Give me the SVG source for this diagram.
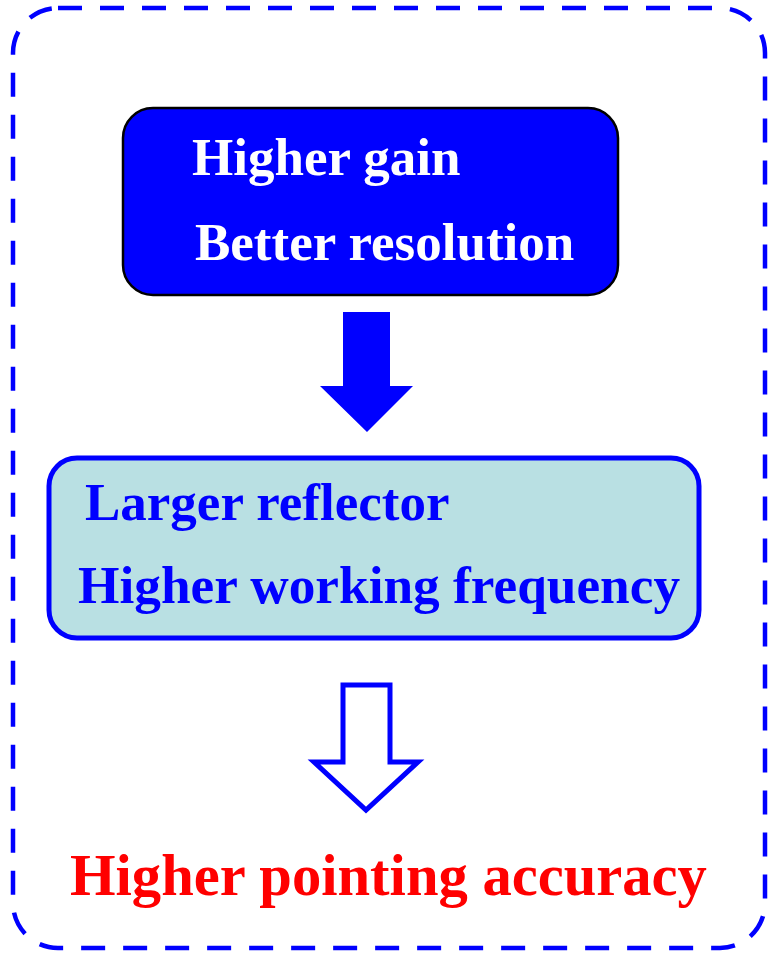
<svg xmlns="http://www.w3.org/2000/svg" width="769" height="957" viewBox="0 0 769 957">
<style>
.t{font-family:"Liberation Serif","Times New Roman",serif;font-weight:bold;font-size:53px}
</style>
<rect width="769" height="957" fill="#fff"/>
<g id="frame">
<rect x="13" y="8" width="752" height="940" rx="45" fill="none" stroke="#0000FF" stroke-width="4.5" stroke-dasharray="24 18"/>
</g>
<g id="node-top">
<rect x="123" y="108" width="495" height="187" rx="30" fill="#0000FF" stroke="#000" stroke-width="2.5"/>
<text class="t" x="192" y="175" fill="#fff">Higher gain</text>
<text class="t" x="195" y="260" fill="#fff">Better resolution</text>
</g>
<g id="node-mid">
<rect x="49" y="458" width="650" height="180" rx="28" fill="#B9E0E3" stroke="#0000FF" stroke-width="5"/>
<text class="t" x="85" y="520" fill="#0000FF">Larger reflector</text>
<text class="t" x="78" y="603" fill="#0000FF" style="font-size:53.3px">Higher working frequency</text>
</g>
<g id="node-bottom">
<text class="t" x="70" y="895" fill="#FF0000" style="font-size:58.6px">Higher pointing accuracy</text>
</g>
<g id="connectors">
<polygon points="343,312 390,312 390,386 413,386 367,432 320,386 343,386" fill="#0000FF"/>
<polygon points="343,685 390,685 390,762 418,762 366,810 314,762 343,762" fill="#fff" stroke="#0000FF" stroke-width="5" stroke-linejoin="miter"/>
</g>
</svg>
